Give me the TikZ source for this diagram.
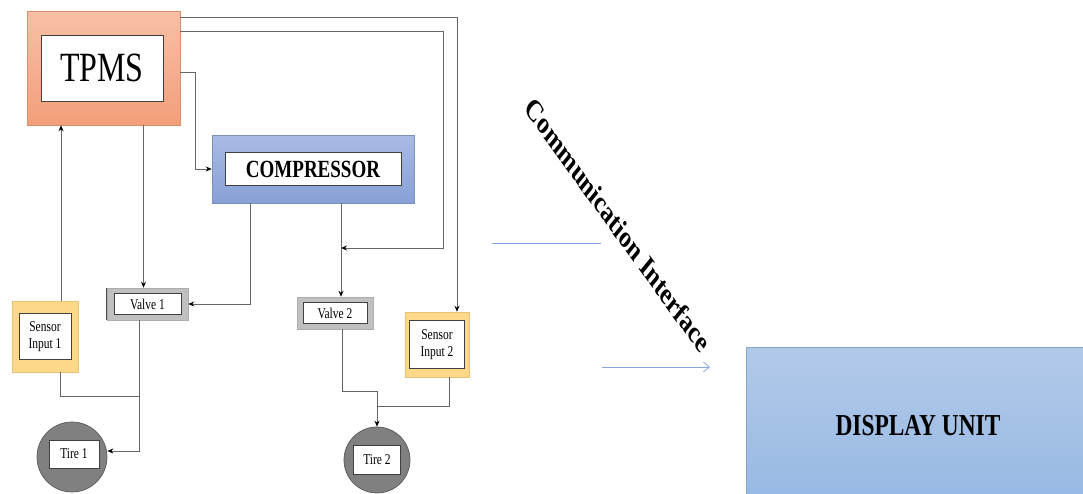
\documentclass[tikz,border=0pt]{standalone}
\usepackage{fontspec}
\setmainfont{Liberation Serif}
\usetikzlibrary{arrows.meta,calc}
\definecolor{TpmsTop}{RGB}{248,192,166}
\definecolor{TpmsBot}{RGB}{243,158,122}
\definecolor{CompTop}{RGB}{170,187,228}
\definecolor{CompBot}{RGB}{136,160,214}
\definecolor{DispTop}{RGB}{178,202,233}
\definecolor{DispBot}{RGB}{150,184,227}
\definecolor{SensorGold}{RGB}{253,216,136}
\definecolor{ValveGray}{RGB}{192,192,192}
\definecolor{TireGray}{RGB}{128,128,128}
\definecolor{LinkBlue}{RGB}{135,165,222}
\newcommand{\tall}[1]{\scalebox{1}[1.3]{#1}}

\begin{document}
\begin{tikzpicture}[x=1pt, y=-1pt,
  inbox/.style={draw=black!75, fill=white, line width=0.8pt, inner sep=0pt},
  unit/.style={inner sep=0pt, draw=#1!90!black, line width=0.5pt},
  wire/.style={draw=black!60, line width=0.8pt},
  feed/.style={wire, -{Stealth[length=6pt,width=5pt,color=black]}},
  link/.style={draw=LinkBlue, line width=0.8pt},
  small/.style={font=\fontsize{11.5}{13}\selectfont}]
  \useasboundingbox (0,0) rectangle (1083,493);

  % Main blocks
  \node[unit=TpmsBot, top color=TpmsTop, bottom color=TpmsBot, minimum width=153pt, minimum height=114pt] (tpms) at (103.5,68) {};
  \node[inbox, minimum width=122pt, minimum height=66pt, font=\fontsize{32}{36}\selectfont] (tpmsin) at ([xshift=-1.5pt]tpms.center) {\tall{TPMS}};

  \node[unit=CompBot, top color=CompTop, bottom color=CompBot, minimum width=202pt, minimum height=68pt] (comp) at (313,169) {};
  \node[inbox, minimum width=176pt, minimum height=33pt, font=\fontsize{19}{22}\bfseries\selectfont] (compin) at (comp) {\tall{COMPRESSOR}};

  % Valves
  \node[unit=ValveGray, fill=ValveGray, minimum width=81pt, minimum height=32pt] (valve1) at (147.5,304) {};
  \draw[black!70, line width=1.2pt] (valve1.north west) -- (valve1.south west);
  \node[inbox, small, minimum width=67pt, minimum height=21pt] (valve1in) at (valve1) {\tall{Valve 1}};
  \node[unit=ValveGray, fill=ValveGray, minimum width=76pt, minimum height=32pt] (valve2) at (335,313) {};
  \node[inbox, small, minimum width=64pt, minimum height=21pt] (valve2in) at (valve2) {\tall{Valve 2}};

  % Sensor inputs
  \node[unit=SensorGold, fill=SensorGold, minimum width=66pt, minimum height=71pt] (sin1) at (45,336.5) {};
  \node[inbox, small, minimum width=52pt, minimum height=46pt] (sin1in) at (sin1) {\tall{\begin{tabular}{@{}c@{}}Sensor\\Input 1\end{tabular}}};
  \node[unit=SensorGold, fill=SensorGold, minimum width=64pt, minimum height=65pt] (sin2) at (437,344.5) {};
  \node[inbox, small, minimum width=55pt, minimum height=48pt] (sin2in) at (sin2) {\tall{\begin{tabular}{@{}c@{}}Sensor\\Input 2\end{tabular}}};

  % Tires
  \node[circle, draw=black!65, fill=TireGray, line width=0.7pt, minimum size=70pt, inner sep=0pt] (tire1) at (72,457) {};
  \node[inbox, small, minimum width=50pt, minimum height=28pt] (tire1in) at ([xshift=2pt,yshift=3pt]tire1.center) {\tall{Tire 1}};
  \node[circle, draw=black!65, fill=TireGray, line width=0.7pt, minimum size=66pt, inner sep=0pt] (tire2) at (377,460) {};
  \node[inbox, small, minimum width=47pt, minimum height=29pt] (tire2in) at (tire2) {\tall{Tire 2}};

  % Display side
  \node[unit=DispBot, top color=DispTop, bottom color=DispBot, minimum width=344pt, minimum height=158pt, font=\fontsize{23.4}{28}\bfseries\selectfont] (disp) at (918,426) {\tall{DISPLAY UNIT}};
  \begin{scope}[shift={(618,225)}, yscale=1.3]
    \node[font=\fontsize{23.4}{28}\bfseries\selectfont, rotate=-46.8, transform shape, inner sep=0pt] (commlabel) at (0,0) {Communication Interface};
  \end{scope}

  % Junctions
  \coordinate (j1) at (139,396);
  \coordinate (j2) at (341,248);
  \coordinate (j3) at (377,406);

  % Control lines from the TPMS
  \draw[feed] ([yshift=-7pt]tpms.north east) -| ([xshift=20pt]sin2.north);
  \draw[feed] ([yshift=-21pt]tpms.north east) -- ++(263,0) |- (j2);
  \draw[feed] ([yshift=-4pt]tpms.east) -- ++(15,0) |- (comp.west);
  \draw[feed] ([xshift=-4pt]valve1.north |- tpms.south) -- ([xshift=-4pt]valve1.north);
  \draw[feed] ([xshift=16pt]sin1.north) -- ([xshift=16pt]sin1.north |- tpms.south);

  % Compressor to valves
  \draw[feed] ([xshift=-63pt]comp.south) |- (valve1.east);
  \draw[feed] ([xshift=6pt]valve2.north |- comp.south) -- ([xshift=6pt]valve2.north);

  % Valves and sensors to tires
  \draw[feed] ([xshift=-8pt]valve1.south) |- ([yshift=6pt]tire1.east);
  \draw[wire] ([xshift=15pt]sin1.south) |- (j1);
  \draw[feed] ([xshift=7pt]valve2.south) -- ++(0,62) -| (tire2.north);
  \draw[wire] ([xshift=12pt]sin2.south) |- (j3);

  % Communication links
  \coordinate (cmA) at (492,243);
  \coordinate (cmB) at (601,243);
  \coordinate (cmC) at (602,367);
  \coordinate (cmD) at (710,367);
  \draw[link] (cmA) -- (cmB);
  \draw[link, -{Straight Barb[length=6pt,width=10pt]}] (cmC) -- (cmD);
\end{tikzpicture}
\end{document}
